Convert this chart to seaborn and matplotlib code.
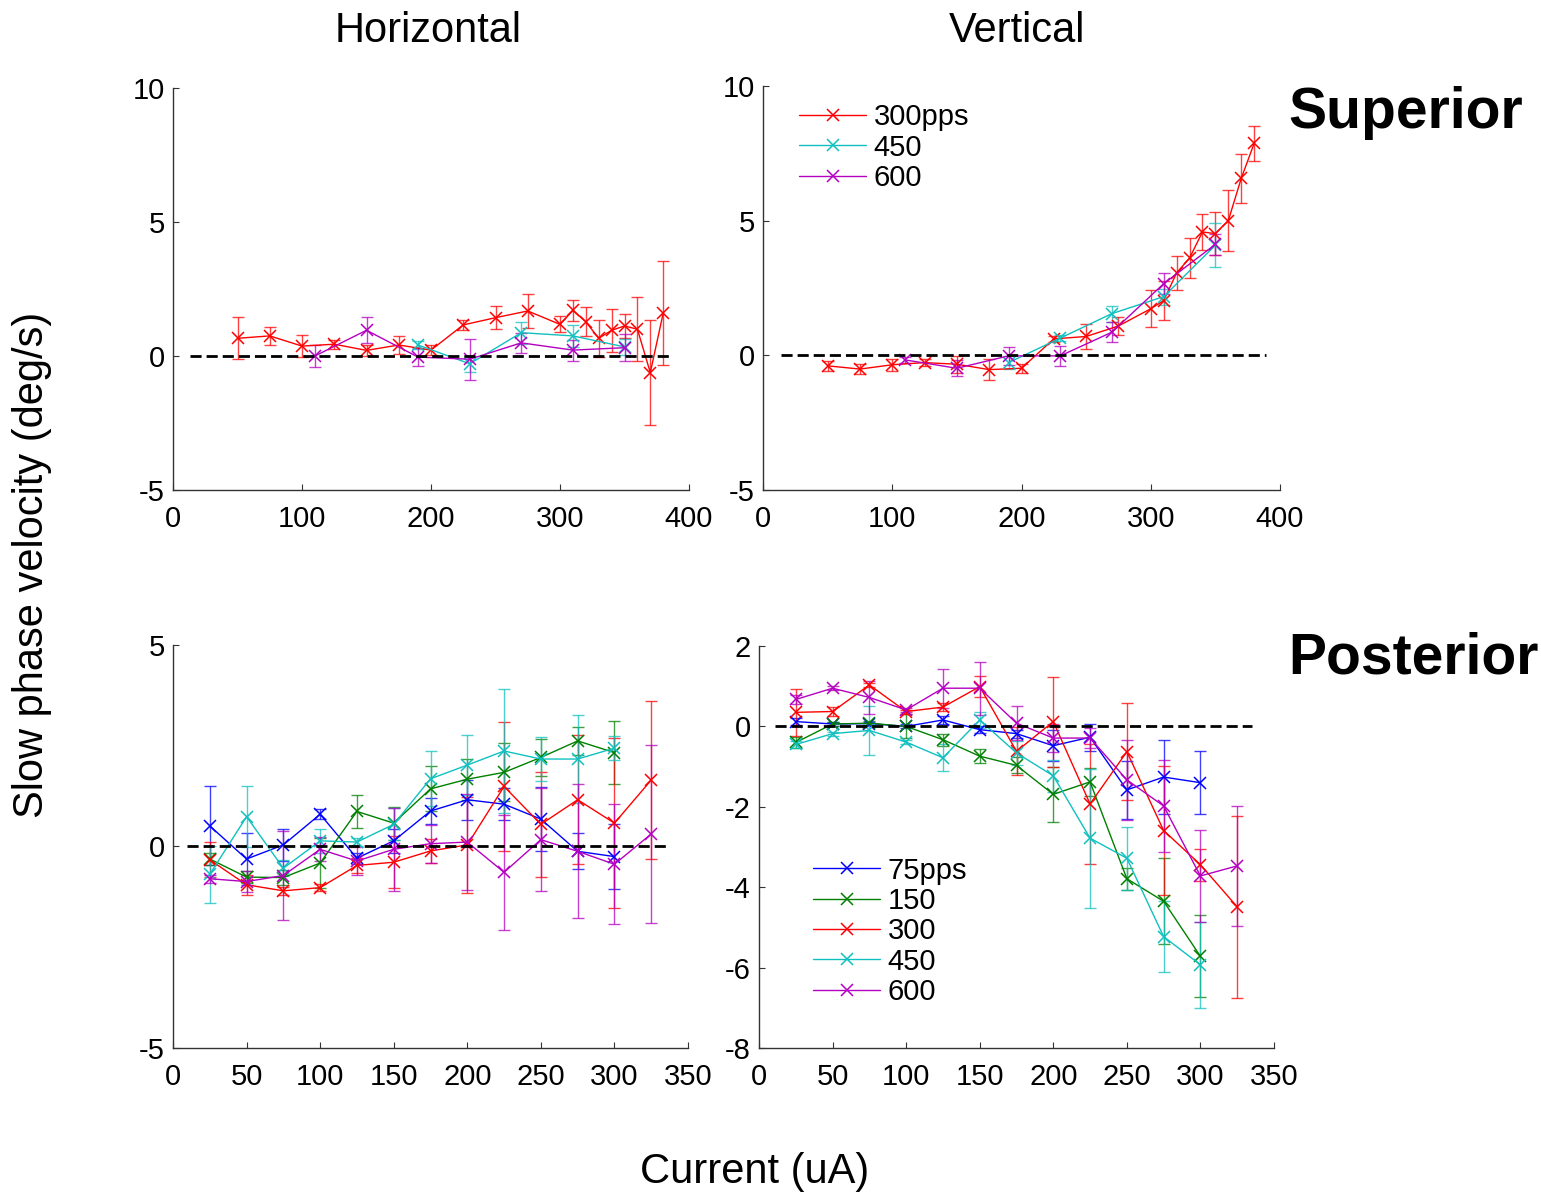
import numpy as np
import pandas as pd
import matplotlib
matplotlib.use("Agg")
import matplotlib.pyplot as plt
import seaborn as sns

# ---------------- data ----------------
# Superior canal, x values (current, uA)
SUP_X_300 = [50, 75, 100, 125, 150, 175, 200, 225, 250, 275, 300, 310, 320, 330, 340, 350, 360, 370, 380]
SUP_X_450 = [190, 230, 270, 310, 350]
SUP_X_600 = [110, 150, 190, 230, 270, 310, 350]

# Superior - Horizontal
SH_Y_300 = [0.66, 0.75, 0.37, 0.44, 0.21, 0.41, 0.22, 1.16, 1.43, 1.68, 1.18, 1.70, 1.28, 0.66, 0.96, 1.12, 1.00, -0.62, 1.60]
SH_E_300 = [0.78, 0.34, 0.42, 0.17, 0.20, 0.35, 0.20, 0.19, 0.42, 0.64, 0.30, 0.39, 0.53, 0.70, 0.81, 0.44, 1.19, 1.95, 1.95]
SH_Y_450 = [0.41, -0.29, 0.87, 0.75, 0.34]
SH_E_450 = [0.15, 0.30, 0.41, 0.40, 0.30]
SH_Y_600 = [0.00, 0.96, -0.04, -0.12, 0.49, 0.22, 0.31]
SH_E_600 = [0.42, 0.48, 0.33, 0.76, 0.38, 0.39, 0.50]

# Superior - Vertical
SV_Y_300 = [-0.39, -0.51, -0.35, -0.27, -0.33, -0.53, -0.48, 0.61, 0.70, 1.09, 1.73, 2.03, 3.06, 3.61, 4.58, 4.52, 5.00, 6.57, 7.87]
SV_E_300 = [0.18, 0.18, 0.22, 0.12, 0.31, 0.38, 0.17, 0.12, 0.47, 0.35, 0.68, 0.73, 0.62, 0.75, 0.67, 0.80, 1.14, 0.90, 0.66]
SV_Y_450 = [-0.27, 0.64, 1.55, 2.18, 4.09]
SV_E_450 = [0.25, 0.12, 0.30, 0.30, 0.82]
SV_Y_600 = [-0.17, -0.48, -0.02, -0.02, 0.86, 2.66, 4.12]
SV_E_600 = [0.10, 0.30, 0.33, 0.38, 0.36, 0.39, 0.40]

# Posterior canal, x values
POS_X_12 = [25, 50, 75, 100, 125, 150, 175, 200, 225, 250, 275, 300]
POS_X_13 = [25, 50, 75, 100, 125, 150, 175, 200, 225, 250, 275, 300, 325]

# Posterior - Horizontal
PH_Y_75 = [0.51, -0.31, 0.04, 0.80, -0.29, 0.14, 0.88, 1.16, 1.05, 0.68, -0.12, -0.25]
PH_E_75 = [0.98, 0.65, 0.40, 0.12, 0.14, 0.30, 0.33, 0.50, 0.40, 0.80, 0.45, 0.80]
PH_Y_150 = [-0.31, -0.76, -0.77, -0.41, 0.87, 0.58, 1.43, 1.67, 1.84, 2.21, 2.62, 2.33]
PH_E_150 = [0.15, 0.15, 0.18, 0.62, 0.40, 0.41, 0.56, 0.51, 0.72, 0.45, 0.34, 0.78]
PH_Y_300 = [-0.33, -0.95, -1.10, -1.02, -0.47, -0.39, -0.11, 0.04, 1.49, 0.55, 1.16, 0.58, 1.65]
PH_E_300 = [0.43, 0.25, 0.10, 0.08, 0.19, 0.64, 0.30, 1.20, 1.60, 1.30, 1.60, 2.10, 1.96]
PH_Y_450 = [-0.69, 0.74, -0.54, 0.14, 0.11, 0.55, 1.68, 2.02, 2.37, 2.17, 2.17, 2.44]
PH_E_450 = [0.71, 0.76, 0.20, 0.30, 0.10, 0.40, 0.68, 0.74, 1.55, 0.55, 1.10, 0.30]
PH_Y_600 = [-0.80, -0.87, -0.72, -0.07, -0.36, -0.07, 0.07, 0.11, -0.64, 0.17, -0.12, -0.44, 0.31]
PH_E_600 = [0.10, 0.25, 1.10, 0.30, 0.35, 1.03, 0.47, 1.20, 1.43, 1.27, 1.66, 1.49, 2.22]

# Posterior - Vertical
PV_Y_75 = [0.12, 0.06, 0.07, 0.00, 0.16, -0.08, -0.18, -0.48, -0.27, -1.58, -1.26, -1.40]
PV_E_75 = [0.08, 0.05, 0.05, 0.05, 0.10, 0.08, 0.10, 0.39, 0.34, 0.73, 0.92, 0.79]
PV_Y_150 = [-0.40, 0.06, 0.08, 0.00, -0.33, -0.74, -0.97, -1.69, -1.38, -3.79, -4.35, -5.72]
PV_E_150 = [0.13, 0.05, 0.05, 0.30, 0.15, 0.17, 0.20, 0.69, 0.34, 0.28, 1.07, 1.02]
PV_Y_300 = [0.35, 0.37, 1.03, 0.37, 0.48, 0.99, -0.62, 0.12, -1.93, -0.63, -2.59, -3.44, -4.49]
PV_E_300 = [0.58, 0.12, 0.05, 0.05, 0.10, 0.26, 0.60, 1.12, 1.50, 1.20, 1.60, 0.40, 2.26]
PV_Y_450 = [-0.45, -0.18, -0.10, -0.39, -0.78, 0.16, -0.66, -1.23, -2.78, -3.28, -5.23, -5.93]
PV_E_450 = [0.08, 0.05, 0.60, 0.05, 0.34, 0.20, 0.30, 0.40, 1.73, 0.78, 0.88, 1.07]
PV_Y_600 = [0.67, 0.95, 0.72, 0.41, 0.95, 0.95, 0.08, -0.29, -0.29, -1.33, -1.98, -3.72, -3.47]
PV_E_600 = [0.12, 0.05, 0.40, 0.05, 0.49, 0.66, 0.42, 0.35, 0.25, 1.00, 1.15, 1.14, 1.50]

LABELS_SUP = ["300pps", "450", "600"]
LABELS_POS = ["75pps", "150", "300", "450", "600"]

COL_TITLES = ["Horizontal", "Vertical"]
ROW_TITLES = ["Superior", "Posterior"]
XLABEL = "Current (uA)"
YLABEL = "Slow phase velocity (deg/s)"

SUP_XTICKS = [0, 100, 200, 300, 400]
SUP_YTICKS = [-5, 0, 5, 10]
POS_XTICKS = [0, 50, 100, 150, 200, 250, 300, 350]
PH_YTICKS = [-5, 0, 5]
PV_YTICKS = [-8, -6, -4, -2, 0, 2]

# ---------------- style ----------------
C_BLUE = "#0000ff"
C_GREEN = "#008000"
C_RED = "#ff0000"
C_CYAN = "#10c0c0"
C_MAG = "#b400c0"

sns.set_style("ticks")
plt.rcParams["font.family"] = ["Liberation Sans", "DejaVu Sans"]
plt.rcParams["text.color"] = "black"
plt.rcParams["axes.labelcolor"] = "black"
plt.rcParams["xtick.color"] = "black"
plt.rcParams["ytick.color"] = "black"
plt.rcParams["axes.unicode_minus"] = False

W, H = 1541, 1193
fig = plt.figure(figsize=(W / 100, H / 100), dpi=100)


def px_axes(x0, y_top, x1, y_bot):
    return fig.add_axes([x0 / W, 1 - y_bot / H, (x1 - x0) / W, (y_bot - y_top) / H])


ax_sh = px_axes(173, 88, 689, 490)
ax_sv = px_axes(763, 86, 1280, 490)
ax_ph = px_axes(173, 645, 688, 1048)
ax_pv = px_axes(759, 646, 1274, 1048)


def draw_series(ax, x, y, e, color, label=None):
    ax.errorbar(x, y, yerr=e, fmt="none", ecolor=color, elinewidth=1.0,
                capsize=4, capthick=1.0, alpha=0.75, zorder=2)
    df = pd.DataFrame({"x": x, "y": y})
    sns.lineplot(data=df, x="x", y="y", ax=ax, color=color, marker="x",
                 markersize=8, markeredgewidth=1.1, markeredgecolor=color,
                 linewidth=1.0, sort=False, estimator=None, errorbar=None,
                 label=label, legend=bool(label), zorder=3)


# Superior horizontal
draw_series(ax_sh, SUP_X_300, SH_Y_300, SH_E_300, C_RED)
draw_series(ax_sh, SUP_X_450, SH_Y_450, SH_E_450, C_CYAN)
draw_series(ax_sh, SUP_X_600, SH_Y_600, SH_E_600, C_MAG)

# Superior vertical
draw_series(ax_sv, SUP_X_300, SV_Y_300, SV_E_300, C_RED, LABELS_SUP[0])
draw_series(ax_sv, SUP_X_450, SV_Y_450, SV_E_450, C_CYAN, LABELS_SUP[1])
draw_series(ax_sv, SUP_X_600, SV_Y_600, SV_E_600, C_MAG, LABELS_SUP[2])

# Posterior horizontal
draw_series(ax_ph, POS_X_12, PH_Y_75, PH_E_75, C_BLUE)
draw_series(ax_ph, POS_X_12, PH_Y_150, PH_E_150, C_GREEN)
draw_series(ax_ph, POS_X_13, PH_Y_300, PH_E_300, C_RED)
draw_series(ax_ph, POS_X_12, PH_Y_450, PH_E_450, C_CYAN)
draw_series(ax_ph, POS_X_13, PH_Y_600, PH_E_600, C_MAG)

# Posterior vertical
draw_series(ax_pv, POS_X_12, PV_Y_75, PV_E_75, C_BLUE, LABELS_POS[0])
draw_series(ax_pv, POS_X_12, PV_Y_150, PV_E_150, C_GREEN, LABELS_POS[1])
draw_series(ax_pv, POS_X_13, PV_Y_300, PV_E_300, C_RED, LABELS_POS[2])
draw_series(ax_pv, POS_X_12, PV_Y_450, PV_E_450, C_CYAN, LABELS_POS[3])
draw_series(ax_pv, POS_X_13, PV_Y_600, PV_E_600, C_MAG, LABELS_POS[4])

# zero reference lines
for ax, (a, b) in [(ax_sh, (0.033, 0.965)), (ax_sv, (0.035, 0.972)),
                   (ax_ph, (0.027, 0.957)), (ax_pv, (0.031, 0.957))]:
    ax.axhline(0, xmin=a, xmax=b, color="black", lw=2.0, ls=(0, (4, 1.8)), zorder=4)

# axes formatting
for ax, xl, xt, yl, yt in [
    (ax_sh, (0, 400), SUP_XTICKS, (-5, 10), SUP_YTICKS),
    (ax_sv, (0, 400), SUP_XTICKS, (-5, 10), SUP_YTICKS),
    (ax_ph, (0, 350), POS_XTICKS, (-5, 5), PH_YTICKS),
    (ax_pv, (0, 350), POS_XTICKS, (-8, 2), PV_YTICKS),
]:
    ax.set_xlim(*xl)
    ax.set_ylim(*yl)
    ax.set_xticks(xt)
    ax.set_yticks(yt)
    ax.set_xlabel("")
    ax.set_ylabel("")
    sns.despine(ax=ax)
    for s in ["left", "bottom"]:
        ax.spines[s].set_color("#333333")
        ax.spines[s].set_linewidth(1.0)
    ax.tick_params(direction="in", length=4, width=0.8, colors="#333333",
                   labelcolor="black", labelsize=21)
    ax.tick_params(axis="x", pad=11)
    ax.tick_params(axis="y", pad=6)

# legends
ax_sv.legend(loc="upper left", bbox_to_anchor=(0.07, 0.957), frameon=False,
             fontsize=21, handlelength=2.3, handletextpad=0.25, labelspacing=0.08,
             borderpad=0, borderaxespad=0, numpoints=1)
ax_pv.legend(loc="upper left", bbox_to_anchor=(0.105, 0.476), frameon=False,
             fontsize=21, handlelength=2.3, handletextpad=0.25, labelspacing=0.08,
             borderpad=0, borderaxespad=0, numpoints=1)

# titles and labels
fig.text(428 / W, 1 - 42 / H, COL_TITLES[0], ha="center", va="baseline", fontsize=30)
fig.text(1017 / W, 1 - 42 / H, COL_TITLES[1], ha="center", va="baseline", fontsize=30)
fig.text(1288 / W, 1 - 128 / H, ROW_TITLES[0], ha="left", va="baseline", fontsize=41, fontweight="bold")
fig.text(1288 / W, 1 - 673 / H, ROW_TITLES[1], ha="left", va="baseline", fontsize=41, fontweight="bold")
fig.text(32 / W, 1 - 565 / H, YLABEL, ha="center", va="center", rotation=90, fontsize=30)
fig.text(755 / W, 1 - 1183 / H, XLABEL, ha="center", va="baseline", fontsize=30)

fig.savefig("out.png", dpi=100)
